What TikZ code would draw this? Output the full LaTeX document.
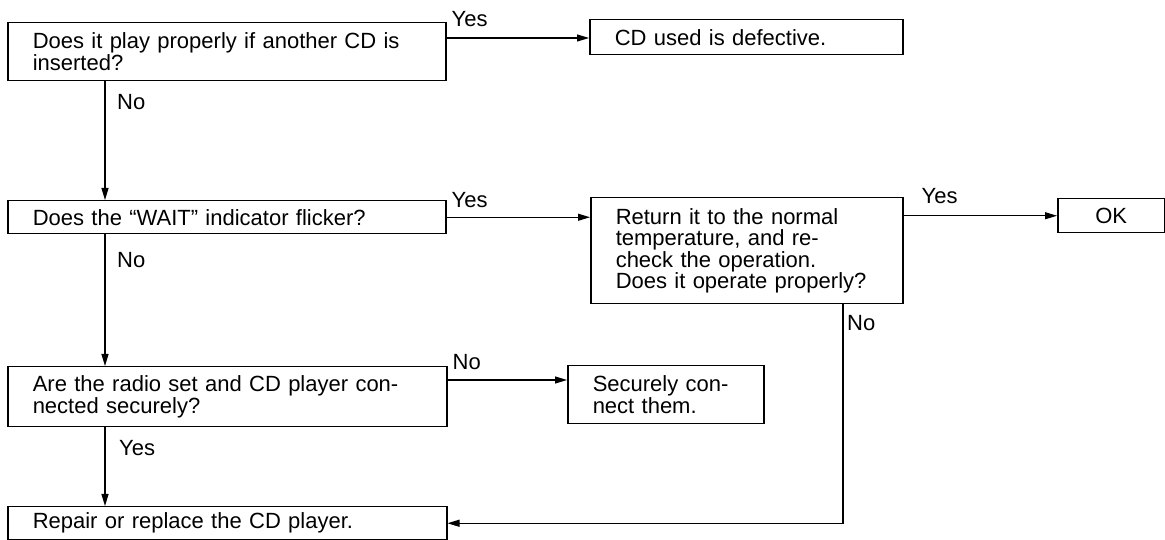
\documentclass[tikz,border=0pt]{standalone}
\usepackage{fontspec}
\setmainfont{Liberation Sans}
\usetikzlibrary{arrows.meta,positioning}
\newcommand\flowfont{\fontsize{22}{21.5}\selectfont}

\begin{document}
\begin{tikzpicture}[x=1pt,y=1pt,
  box/.style={draw,line width=1.5pt,anchor=north west,align=left,font=\flowfont,inner xsep=25pt,inner ysep=0pt},
  lab/.style={anchor=base west,inner sep=0pt,font=\flowfont},
  ar/.style={-{Triangle[length=12pt,width=7pt]},line width=1.1pt}]
\useasboundingbox (0,0) rectangle (1165,540);
\node[box,text width=388pt,minimum height=58pt] (A) at (7,518) {Does it play properly if another CD is\\inserted?};
\node[box,text width=263pt,minimum height=35pt] (B) at (589,521) {CD used is defective.};
\node[box,text width=388pt,minimum height=33pt] (W) at (7,340) {Does the “WAIT” indicator flicker?};
\node[box,text width=262pt,minimum height=106pt] (R) at (590,343) {Return it to the normal\\temperature, and re-\\check the operation.\\Does it operate properly?};
\node[box,align=center,inner xsep=0pt,text width=107pt,minimum height=34pt] (OK) at (1057,342) {OK};
\node[box,text width=389pt,minimum height=60pt] (S) at (7,174) {Are the radio set and CD player con-\\nected securely?};
\node[box,text width=146pt,minimum height=58pt] (S2) at (567,175) {Securely con-\\nect them.};
\node[box,text width=389pt,minimum height=33pt] (P) at (7,34) {Repair or replace the CD player.};
% main column
\foreach \u/\v in {A/W,W/S,S/P} \draw[ar] ([xshift=98pt]\u.south west) -- ([xshift=98pt]\v.north west);
\node[lab] (n1) at ([shift={(110pt,-28pt)}]A.south west) {No};
\node[lab] (n2) at ([shift={(110pt,-33pt)}]W.south west) {No};
\node[lab] (y3) at ([shift={(112pt,-28pt)}]S.south west) {Yes};
% side branches
\coordinate (a1) at ([yshift=-16pt]A.north east);
\coordinate (s1) at ([yshift=-14pt]S.north east);
\coordinate (r1) at (R.east |- OK.west);
\draw[ar] (a1) -- (a1 -| B.west);
\draw[ar] (W.east) -- (W.east -| R.west);
\draw[ar] (s1) -- (s1 -| S2.west);
\draw[ar] (r1) -- (OK.west);
\draw[ar] ([xshift=253pt]R.south west) |- (P.east);
\node[lab] (y1) at ([shift={(5pt,11pt)}]a1) {Yes};
\node[lab] (y2) at ([shift={(5pt,10pt)}]W.east) {Yes};
\node[lab] (n3) at ([shift={(5pt,10pt)}]s1) {No};
\node[lab] (y4) at ([shift={(18pt,12pt)}]r1) {Yes};
\node[lab] (n4) at ([shift={(257pt,-26pt)}]R.south west) {No};
\end{tikzpicture}
\end{document}
